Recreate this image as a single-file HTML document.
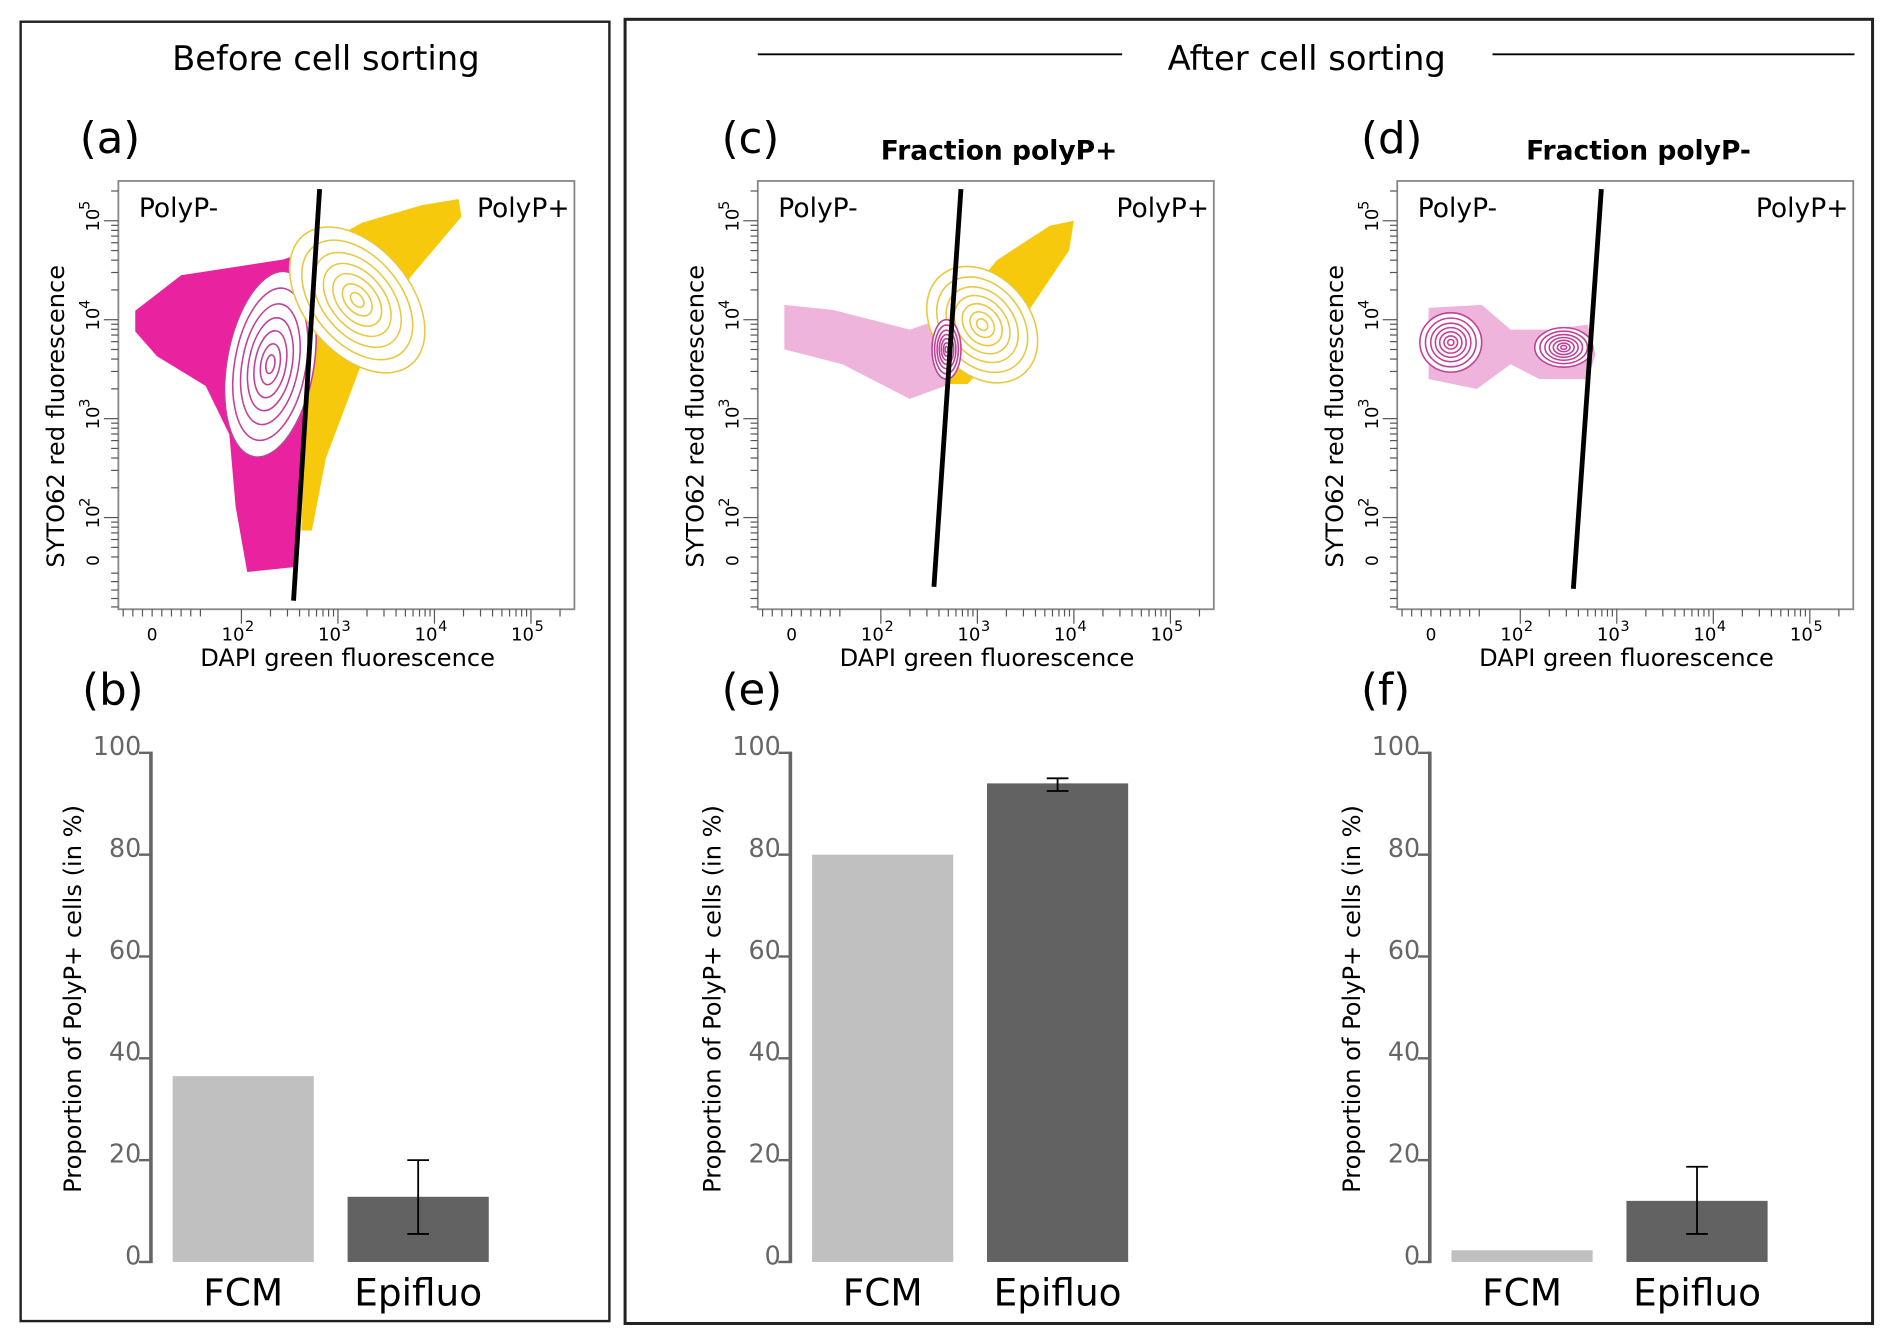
<!DOCTYPE html>
<html><head><meta charset="utf-8"><style>
html,body{margin:0;padding:0;background:#fff;}
svg{display:block;font-family:"DejaVu Sans","Liberation Sans",sans-serif;}
</style></head><body>
<svg id="fig" width="1892" height="1344" viewBox="0 0 1568 1114" xmlns="http://www.w3.org/2000/svg">
<rect x="0" y="0" width="1568" height="1114" fill="#fff"/>
<rect x="17" y="18" width="488" height="1077" fill="none" stroke="#222" stroke-width="2"/>
<rect x="518" y="16" width="1034" height="1081" fill="none" stroke="#222" stroke-width="2.5"/>
<text x="270" y="58" font-size="28" text-anchor="middle">Before cell sorting</text>
<text x="1083" y="58" font-size="28" text-anchor="middle">After cell sorting</text>
<line x1="628" y1="45" x2="930" y2="45" stroke="#000" stroke-width="1.5"/>
<line x1="1237" y1="45" x2="1537" y2="45" stroke="#000" stroke-width="1.5"/>
<text x="66" y="127" font-size="36">(a)</text>
<text x="598" y="127" font-size="36">(c)</text>
<text x="1128" y="127" font-size="36">(d)</text>
<text x="68" y="584" font-size="36">(b)</text>
<text x="598" y="584" font-size="36">(e)</text>
<text x="1128" y="584" font-size="36">(f)</text>
<text x="828" y="132" font-size="22" font-weight="bold" text-anchor="middle">Fraction polyP+</text>
<text x="1358" y="132" font-size="22" font-weight="bold" text-anchor="middle">Fraction polyP-</text>
<g id="plots"></g>
</svg>
<script>
// ---------- bar chart data ----------
const barCategories = ["FCM", "Epifluo"];
const barB = [36.5, 12.8];
const errB = [[null,null],[5.5,20]];
const barE = [80, 94];
const errE = [[null,null],[92.5,95]];
const barF = [2.3, 12];
const errF = [[null,null],[5.5,18.7]];
const barTicks = [0, 20, 40, 60, 80, 100];

// ---------- cytometry data (log10 units) ----------
const magentaA = [[0.9,4.09],[1.375,4.45],[2.44,4.61],[2.78,4.73],[2.73,4.06],[2.65,3.09],[2.56,1.5],[2.06,1.45],[1.94,2.11],[1.875,2.84],[1.63,3.33],[1.125,3.63],[0.9,3.88]];
const yellowA = [[2.78,4.73],[3.25,4.98],[3.875,5.16],[4.25,5.22],[4.28,5.04],[3.75,4.43],[3.25,3.57],[2.875,2.6],[2.73,1.87],[2.62,1.87],[2.69,3.57],[2.73,4.06]];
const magentaC = [[1.0,4.15],[1.5,4.1],[2.3,3.9],[2.75,4.05],[2.72,3.35],[2.3,3.2],[1.6,3.55],[1.0,3.7]];
const yellowC = [[2.75,4.05],[3.2,4.6],[3.75,4.95],[4.0,5.0],[3.95,4.7],[3.4,3.9],[2.9,3.35],[2.7,3.35]];
const magentaD = [[1.05,4.12],[1.6,4.15],[1.9,3.9],[2.3,3.9],[2.7,3.95],[2.78,3.65],[2.7,3.4],[2.2,3.4],[1.9,3.55],[1.55,3.3],[1.05,3.4]];
// contour sets: [centerLx, centerLy, rxLog, ryLog, rotation]
const contourA = [[2.3,3.55,0.45,0.95,-10],[3.2,4.2,0.55,0.85,40]];
const contourC = [[3.05,3.95,0.5,0.65,40],[2.68,3.7,0.15,0.3,0]];
const contourD = [[1.28,3.77,0.32,0.3,0],[2.45,3.72,0.3,0.2,0]];
const contourLevels = [1, 0.82, 0.65, 0.5, 0.36, 0.22, 0.1];
const gateA = [[2.81,5.32],[2.54,1.16]];
const gateC = [[2.83,5.32],[2.55,1.3]];
const gateD = [[2.84,5.32],[2.55,1.28]];
const decadeLabels = ["2","3","4","5"];

const NS = "http://www.w3.org/2000/svg";
const root = document.getElementById("plots");
function mk(tag, attrs, parent){const e=document.createElementNS(NS,tag);for(const k in attrs)e.setAttribute(k,attrs[k]);(parent||root).appendChild(e);return e;}

function scatterPanel(ox, name, mag, yel, contours, magColor, gate, sparse){
  const xs = l => ox + 200 + (l-2)*80;
  const ys = l => 265 - (l-4)*82;
  const g = mk("g",{});
  
  
  const bx = mk("rect",{x:ox+98,y:150,width:378,height:355,fill:"#fff",stroke:"#888","stroke-width":1.5},g);
  
  
  const pts = a => a.map(p=>xs(p[0]).toFixed(1)+","+ys(p[1]).toFixed(1)).join(" ");
  if(mag){const p=mk("polygon",{points:pts(mag),fill:magColor,opacity:sparse?0.35:0.95},g);
    
    }
  if(yel){const p=mk("polygon",{points:pts(yel),fill:"#f7c600",opacity:0.95},g);
    
    }
  contours.forEach((c,i)=>{
    const cx=xs(c[0]), cy=ys(c[1]);
    const col = (name==="scatter-d"||(name!=="scatter-a"&&i===1)||(name==="scatter-a"&&i===0)) ? "#c2409a" : "#e8c840";
    contourLevels.forEach((lv,j)=>{
      const e=mk("ellipse",{cx:cx,cy:cy,rx:c[2]*80*lv,ry:c[3]*82*lv,fill:j===0?"#fff":"none",stroke:col,"stroke-width":1.3,transform:`rotate(${-c[4]} ${cx} ${cy})`},g);
      
      
    });
  });
  const gl=mk("line",{x1:xs(gate[0][0]),y1:ys(gate[0][1]),x2:xs(gate[1][0]),y2:ys(gate[1][1]),stroke:"#000","stroke-width":4},g);
  
  
  // x ticks
  for(let d=2; d<=5; d++){
    for(let m=1;m<10;m++){const l=d+Math.log10(m); if(l>5.4)break; const x=xs(l);
      mk("line",{x1:x,y1:505,x2:x,y2:m===1?517:511,stroke:"#555","stroke-width":1},g);}
  }
  for(let i=0;i<9;i++){const x=ox+102+i*8; mk("line",{x1:x,y1:505,x2:x,y2:511,stroke:"#555","stroke-width":1},g);}
  decadeLabels.forEach((t,i)=>{
    const x=xs(2+i);
    const tx=mk("text",{x:x-7,y:531,"font-size":15,"text-anchor":"middle"},g); tx.textContent="10";
    const sp=mk("text",{x:x+3,y:523,"font-size":12},g); sp.textContent=t;
    
    
  });
  const z=mk("text",{x:ox+126,y:531,"font-size":14,"text-anchor":"middle"},g); z.textContent="0";
  // y ticks
  for(let d=1; d<=5; d++){
    for(let m=1;m<10;m++){const l=d+Math.log10(m); if(l<1.6||l>5.4)continue; const y=ys(l);
      mk("line",{x1:ox+98,y1:y,x2:ox+(m===1?86:92),y2:y,stroke:"#555","stroke-width":1},g);}
  }
  for(let i=0;i<5;i++){const y=ys(1.56)+10+i*7; mk("line",{x1:ox+98,y1:y,x2:ox+92,y2:y,stroke:"#555","stroke-width":1},g);}
  decadeLabels.forEach((t,i)=>{
    const y=ys(2+i);
    const tx=mk("text",{x:ox+82,y:y+9,"font-size":15,transform:`rotate(-90 ${ox+82} ${y+9})`},g); tx.textContent="10";
    const sp=mk("text",{x:ox+74,y:y-9,"font-size":12,transform:`rotate(-90 ${ox+74} ${y-9})`},g); sp.textContent=t;
    
    
  });
  const yz=ys(1.56); const z2=mk("text",{x:ox+82,y:yz+4,"font-size":14,transform:`rotate(-90 ${ox+82} ${yz+4})`},g); z2.textContent="0";
  const xl=mk("text",{x:ox+288,y:552,"font-size":20,"text-anchor":"middle"},g); xl.textContent="DAPI green fluorescence";
  
  
  const yl=mk("text",{x:ox+53,y:345,"font-size":20,"text-anchor":"middle",transform:`rotate(-90 ${ox+53} 345)`},g); yl.textContent="SYTO62 red fluorescence";
  
  
  const n=mk("text",{x:ox+115,y:180,"font-size":22},g); n.textContent="PolyP-";
  
  
  const p=mk("text",{x:ox+472,y:180,"font-size":22,"text-anchor":"end"},g); p.textContent="PolyP+";
  
  
}

function barPanel(ox, name, vals, errs){
  const ax = ox+125;
  const ys = v => 1046 - v*4.22;
  const g = mk("g",{});
  
  
  const al=mk("line",{x1:ax,y1:ys(100)-1,x2:ax,y2:ys(0)+1,stroke:"#666","stroke-width":3},g);
  
  
  barTicks.forEach(t=>{
    mk("line",{x1:ax-10,y1:ys(t),x2:ax,y2:ys(t),stroke:"#666","stroke-width":2},g);
    const tx=mk("text",{x:ax-8,y:ys(t)+2,"font-size":21,fill:"#666","text-anchor":"end"},g); tx.textContent=t;
    
    
  });
  const colors=["#c0c0c0","#626262"];
  vals.forEach((v,i)=>{
    const x0 = ax+18+i*145, w=117;
    const r=mk("rect",{x:x0,y:ys(v),width:w,height:ys(0)-ys(v),fill:colors[i]},g);
    
    
    const e=errs[i];
    if(e[0]!==null){
      const cx=x0+w/2;
      const eb=mk("path",{d:`M${cx-9},${ys(e[1])}H${cx+9}M${cx},${ys(e[1])}V${ys(e[0])}M${cx-9},${ys(e[0])}H${cx+9}`,stroke:"#000","stroke-width":1.5,fill:"none"},g);
      
      
    }
    const c=mk("text",{x:x0+w/2,y:1082,"font-size":31,"text-anchor":"middle"},g); c.textContent=barCategories[i];
    
    
  });
  const yl=mk("text",{x:ox+67,y:828,"font-size":20,"text-anchor":"middle",transform:`rotate(-90 ${ox+67} 828)`},g);
  yl.textContent="Proportion of PolyP+  cells (in %)";
  
  
}

scatterPanel(0, "scatter-a", magentaA, yellowA, contourA, "#e8179a", gateA, false);
scatterPanel(530, "scatter-c", magentaC, yellowC, contourC, "#d0289a", gateC, true);
scatterPanel(1060, "scatter-d", magentaD, null, contourD, "#d0289a", gateD, true);
barPanel(0, "bar-chart-b", barB, errB);
barPanel(530, "bar-chart-e", barE, errE);
barPanel(1060, "bar-chart-f", barF, errF);
</script>
</body></html>
